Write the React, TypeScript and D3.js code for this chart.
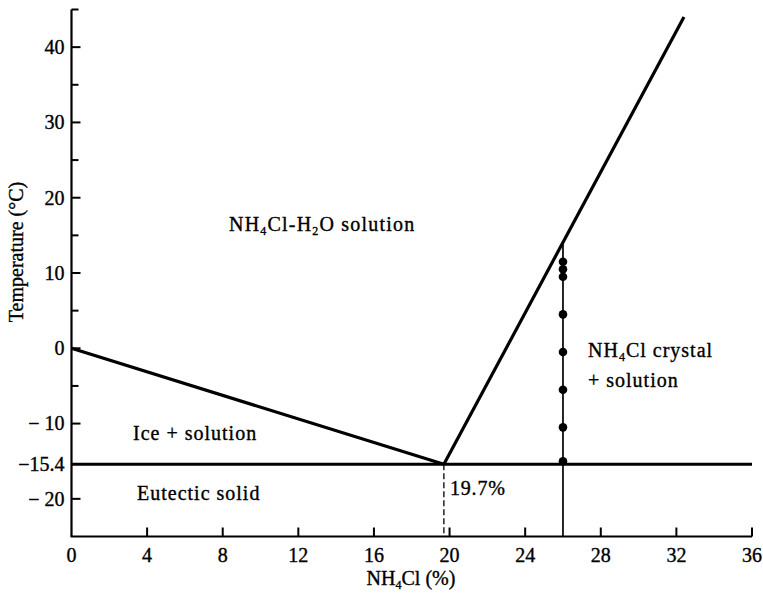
import React from "react";
import * as d3 from "d3";

const xTicks = [0, 4, 8, 12, 16, 20, 24, 28, 32, 36];
const yMajorTicks = [40, 30, 20, 10, 0, -10, -20];
const yMajorLabels = ["40", "30", "20", "10", "0", "\u2212 10", "\u2212 20"];
const yMinorTicks = [45, 35, 25, 15, 5, -5];
const eutecticT = -15.4;
const eutecticX = 19.7;
const iceLine: [number, number][] = [[0, 0], [19.7, -15.4]];
const solubilityLine: [number, number][] = [[19.7, -15.4], [32.4, 44]];
const coolingX = 26;
const coolingTop = 14;
const coolingPoints = [11.5, 10.5, 9.5, 4.5, -0.5, -5.5, -10.5, -15];

const W = 763;
const H = 599;
const FONT = "'Liberation Serif', 'Times New Roman', serif";

export default function App() {
  const x = d3.scaleLinear().domain([0, 36]).range([71.5, 752]);
  const y = d3.scaleLinear().domain([-25, 45]).range([536.5, 9.5]);
  const line = d3
    .line<[number, number]>()
    .x((d) => x(d[0]))
    .y((d) => y(d[1]));

  const x0 = x(0);
  const yb = y(-25);

  return (
    <svg
      width={W}
      height={H}
      style={{ position: "absolute", left: 0, top: 0, background: "#fff" }}
      fontFamily={FONT}
    >
      <g stroke="#000" strokeWidth={0.35} fill="#000">
        {/* y tick labels */}
        {yMajorTicks.map((t, i) => (
          <text key={"yl" + t} x={x0 - 7} y={y(t)} dy="0.34em" textAnchor="end" fontSize={20}>
            {yMajorLabels[i]}
          </text>
        ))}
        <text x={x0 - 7} y={y(eutecticT)} dy="0.34em" textAnchor="end" fontSize={20}>
          {"\u221215.4"}
        </text>
        {/* x tick labels */}
        {xTicks.map((t) => (
          <text key={"xl" + t} x={x(t)} y={yb + 25} textAnchor="middle" fontSize={20}>
            {t}
          </text>
        ))}
        {/* axis titles */}
        <text x={411} y={585} textAnchor="middle" fontSize={20}>
          NH
          <tspan fontSize={12} dy={4}>4</tspan>
          <tspan dy={-4}>Cl (%)</tspan>
        </text>
        <text transform={`translate(23, ${252}) rotate(-90)`} textAnchor="middle" fontSize={20}>
          Temperature (°C)
        </text>
        {/* region labels */}
        <text x={229} y={231} fontSize={20} letterSpacing={1.2}>
          NH
          <tspan fontSize={12} dy={4}>4</tspan>
          <tspan dy={-4}>Cl-H</tspan>
          <tspan fontSize={12} dy={4}>2</tspan>
          <tspan dy={-4}>O solution</tspan>
        </text>
        <text x={133} y={440} fontSize={20} letterSpacing={1}>
          Ice + solution
        </text>
        <text x={137} y={500} fontSize={20} letterSpacing={1}>
          Eutectic solid
        </text>
        <text x={450} y={495} fontSize={20} letterSpacing={0.8}>
          19.7%
        </text>
        <text x={588} y={357} fontSize={20} letterSpacing={1}>
          NH
          <tspan fontSize={12} dy={4}>4</tspan>
          <tspan dy={-4}>Cl crystal</tspan>
        </text>
        <text x={588} y={387} fontSize={20} letterSpacing={1}>
          + solution
        </text>
      </g>

      {/* axes */}
      <line x1={x0} y1={y(45)} x2={x0} y2={yb} stroke="#000" strokeWidth={2.2} />
      <line x1={x0 - 1} y1={yb} x2={x(36)} y2={yb} stroke="#000" strokeWidth={2.2} />
      {yMajorTicks.map((t) => (
        <line key={"ym" + t} x1={x0} x2={x0 + 9} y1={y(t)} y2={y(t)} stroke="#000" strokeWidth={2} />
      ))}
      {yMinorTicks.map((t) => (
        <line key={"yn" + t} x1={x0} x2={x0 + 7} y1={y(t)} y2={y(t)} stroke="#000" strokeWidth={2} />
      ))}
      {xTicks
        .filter((t) => t > 0)
        .map((t) => (
          <line key={"xt" + t} x1={x(t)} x2={x(t)} y1={yb} y2={yb - 9} stroke="#000" strokeWidth={2} />
        ))}

      {/* eutectic line */}
      <line x1={x0} x2={x(36)} y1={y(eutecticT)} y2={y(eutecticT)} stroke="#000" strokeWidth={3.2} />
      {/* ice liquidus */}
      <path d={line(iceLine) || ""} fill="none" stroke="#000" strokeWidth={3.2} />
      {/* solubility line */}
      <path d={line(solubilityLine) || ""} fill="none" stroke="#000" strokeWidth={3.2} />
      {/* dashed vertical at eutectic composition */}
      <line
        x1={x(eutecticX)}
        x2={x(eutecticX)}
        y1={y(eutecticT)}
        y2={yb}
        stroke="#000"
        strokeWidth={1.3}
        strokeDasharray="6,3"
      />
      {/* cooling path */}
      <line x1={x(coolingX)} x2={x(coolingX)} y1={y(coolingTop)} y2={yb} stroke="#000" strokeWidth={1.7} />
      {coolingPoints.map((t, i) => (
        <circle key={i} cx={x(coolingX)} cy={y(t)} r={4.3} fill="#000" />
      ))}
    </svg>
  );
}
